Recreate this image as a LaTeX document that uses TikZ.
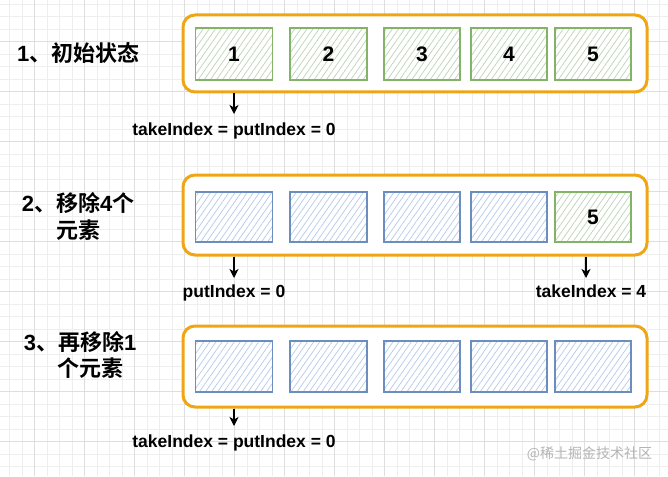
\documentclass[tikz,border=0pt]{standalone}
\usepackage{fontspec}
\setmainfont{Liberation Sans}
\newfontfamily\cjk{Noto Sans CJK SC}[BoldFont={Noto Sans CJK SC Bold}]
\usetikzlibrary{patterns.meta,arrows.meta}
\definecolor{orng}{RGB}{240,165,20}
\definecolor{gstroke}{RGB}{130,179,102}
\definecolor{ghatch}{RGB}{188,212,182}
\definecolor{bstroke}{RGB}{108,142,191}
\definecolor{bhatch}{RGB}{182,202,234}
\definecolor{gridminor}{RGB}{238,238,238}
\definecolor{gridmajor}{RGB}{222,222,222}
\definecolor{wmark}{RGB}{180,180,180}
\begin{document}
\begin{tikzpicture}[x=1pt,y=-1pt,
  outerbox/.style={draw=orng, line width=3pt, fill=white, rounded corners=12pt, minimum width=464pt, inner sep=0pt},
  cellbase/.style={line width=1.5pt, minimum width=77pt, inner sep=0pt, font=\bfseries\fontsize{21}{21}\selectfont},
  gcell/.style={cellbase, draw=gstroke, pattern={Lines[angle=55,distance=5pt,line width=0.7pt]}, pattern color=ghatch},
  bcell/.style={cellbase, draw=bstroke, pattern={Lines[angle=55,distance=5pt,line width=0.7pt]}, pattern color=bhatch},
  lbl/.style={anchor=base, inner sep=0pt, font=\bfseries\fontsize{22}{22}\selectfont},
  idx/.style={anchor=base, inner sep=0pt, font=\bfseries\fontsize{17.5}{17.5}\selectfont},
  arr/.style={-{Stealth[length=9pt,width=9pt,inset=2.5pt]}, line width=1.3pt, black}
]
\useasboundingbox (0,0) rectangle (668,476);
\fill[white] (0,0) rectangle (668,476);
% grid
\foreach \i in {0,...,53} \draw[gridminor, line width=0.8pt] ({9.5+12.5*\i},0) -- ({9.5+12.5*\i},476);
\foreach \j in {0,...,38} \draw[gridminor, line width=0.8pt] (0,{4.2+12.5*\j}) -- (668,{4.2+12.5*\j});
\foreach \i in {0,...,12} \draw[gridmajor, line width=0.8pt] ({34+50*\i},0) -- ({34+50*\i},476);
\foreach \j in {0,...,8} \draw[gridmajor, line width=0.8pt] (0,{41.7+50*\j}) -- (668,{41.7+50*\j});

% row 1
\node[outerbox, minimum height=77pt] (b1) at (415,53.5) {};
\node[gcell, minimum height=52pt] (r1c1) at (234,54) {1};
\node[gcell, minimum height=52pt] (r1c2) at (328.5,54) {2};
\node[gcell, minimum height=52pt, minimum width=76pt] (r1c3) at (422,54) {3};
\node[gcell, minimum height=52pt, minimum width=76pt] (r1c4) at (509,54) {4};
\node[gcell, minimum height=52pt, minimum width=76pt] (r1c5) at (593,54) {5};
\node[lbl, anchor=base west] (l1) at (17,62) {1{\cjk 、初始状态}};
\coordinate (e1) at (234,114);
\draw[arr] (e1 |- b1.south) -- (e1);
\node[idx] (t1) at (234,135) {takeIndex = putIndex = 0};

% row 2
\node[outerbox, minimum height=80pt] (b2) at (415,215) {};
\node[bcell, minimum height=50pt] (r2c1) at (234,217) {};
\node[bcell, minimum height=50pt] (r2c2) at (328.5,217) {};
\node[bcell, minimum height=50pt, minimum width=76pt] (r2c3) at (422,217) {};
\node[bcell, minimum height=50pt, minimum width=76pt] (r2c4) at (509,217) {};
\node[gcell, minimum height=50pt, minimum width=76pt] (r2c5) at (593,217) {5};
\node[lbl] (l2a) at (78,211.5) {2{\cjk 、移除}4{\cjk 个}};
\node[lbl] (l2b) at (78.5,238.5) {{\cjk 元素}};
\coordinate (e2a) at (234,278);
\draw[arr] (e2a |- b2.south) -- (e2a);
\node[idx] (t2a) at (234,297) {putIndex = 0};
\coordinate (e2b) at (586,278);
\draw[arr] (e2b |- b2.south) -- (e2b);
\node[idx] (t2b) at (591,297) {takeIndex = 4};

% row 3
\node[outerbox, minimum height=81pt] (b3) at (415,366.5) {};
\node[bcell, minimum height=51pt] (r3c1) at (234,366.5) {};
\node[bcell, minimum height=51pt] (r3c2) at (328.5,366.5) {};
\node[bcell, minimum height=51pt, minimum width=76pt] (r3c3) at (422,366.5) {};
\node[bcell, minimum height=51pt, minimum width=76pt] (r3c4) at (509,366.5) {};
\node[bcell, minimum height=51pt, minimum width=76pt] (r3c5) at (593,366.5) {};
\node[lbl] (l3a) at (80,350) {3{\cjk 、再移除}1};
\node[lbl] (l3b) at (90,376.5) {{\cjk 个元素}};
\coordinate (e3) at (234,426);
\draw[arr] (e3 |- b3.south) -- (e3);
\node[idx] (t3) at (234,447) {takeIndex = putIndex = 0};

% watermark
\node[anchor=base, inner sep=0pt, text=wmark, font=\cjk\fontsize{14}{14}\selectfont] (wm) at (589.5,458.5) {@稀土掘金技术社区};
\end{tikzpicture}
\end{document}
